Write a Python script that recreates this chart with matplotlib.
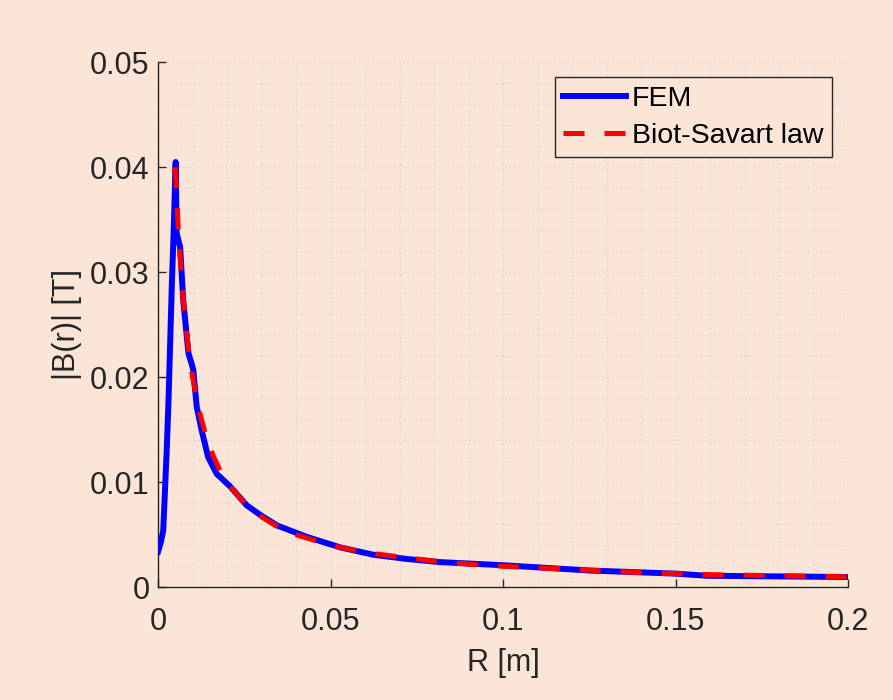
import matplotlib
matplotlib.use("Agg")
import numpy as np
from matplotlib import pyplot as plt
from matplotlib.ticker import MultipleLocator

# FEM solution
r_fem = [0.0, 0.0008, 0.0015, 0.0025, 0.003, 0.004, 0.0045, 0.0051, 0.0054,
         0.0064, 0.0073, 0.0088, 0.0097, 0.0102, 0.0112, 0.0126, 0.0145,
         0.017, 0.0209, 0.0257, 0.0296, 0.0344, 0.0431, 0.0528, 0.0624,
         0.072, 0.0817, 0.1, 0.125, 0.15, 0.159, 0.1755, 0.2]
b_fem = [0.0034, 0.0043, 0.0054, 0.0130, 0.0175, 0.0289, 0.0337, 0.0405, 0.0337,
         0.0324, 0.0273, 0.0223, 0.0213, 0.0207, 0.0172, 0.0150, 0.0124,
         0.0108, 0.0096, 0.0078, 0.0069, 0.0059, 0.0048, 0.0038, 0.0031,
         0.0027, 0.0024, 0.0021, 0.0016, 0.0013, 0.0011, 0.00105, 0.00098]

# Biot-Savart curve (outside the conductor only)
r_bs = [0.005, 0.006, 0.007, 0.008, 0.009, 0.010, 0.012, 0.014, 0.016, 0.018,
        0.020, 0.025, 0.030, 0.035, 0.040, 0.050, 0.060, 0.070, 0.080, 0.090,
        0.100, 0.120, 0.140, 0.160, 0.180, 0.200]
b_bs = [0.0400, 0.0333, 0.0286, 0.0250, 0.0222, 0.0200, 0.0167, 0.0143, 0.0125,
        0.0111, 0.0100, 0.0080, 0.0067, 0.0057, 0.0050, 0.0040, 0.0033, 0.0029,
        0.0025, 0.0022, 0.0020, 0.0017, 0.0014, 0.0012, 0.0011, 0.0010]

xticks = [0, 0.05, 0.1, 0.15, 0.2]
xticklabels = ["0", "0.05", "0.1", "0.15", "0.2"]
yticks = [0, 0.01, 0.02, 0.03, 0.04, 0.05]
yticklabels = ["0", "0.01", "0.02", "0.03", "0.04", "0.05"]

bg = "#fae5d7"
ink = "#262626"
plt.rcParams['font.family'] = ['Liberation Sans', 'DejaVu Sans']

fig = plt.figure(figsize=(8.93, 7.0), dpi=100, facecolor=bg)
ax = fig.add_axes([0.177, 0.161, 0.773, 0.75], facecolor=bg)

ax.plot(r_fem, b_fem, color="#0000ff", lw=4.3, label="FEM", zorder=3,
        solid_joinstyle="round")
ax.plot(r_bs, b_bs, color="#ff0000", lw=3.6, dashes=(4.2, 4.0), label="Biot-Savart law", zorder=4)

ax.set_xlim(0, 0.2)
ax.set_ylim(0, 0.05)
ax.set_xticks(xticks)
ax.set_xticklabels(xticklabels)
ax.set_yticks(yticks)
ax.set_yticklabels(yticklabels)
ax.xaxis.set_minor_locator(MultipleLocator(0.01))
ax.yaxis.set_minor_locator(MultipleLocator(0.002))

ax.grid(which="both", color="#d3dadf", linestyle=(0, (1.5, 2.5)), lw=0.8)
ax.set_axisbelow(True)

for s in ["top", "right"]:
    ax.spines[s].set_visible(False)
for s in ["left", "bottom"]:
    ax.spines[s].set_color(ink)
    ax.spines[s].set_linewidth(1.0)

ax.tick_params(which="major", direction="in", length=6, width=1.0, colors=ink,
               labelsize=22)
ax.tick_params(axis="x", which="major", pad=14)
ax.tick_params(axis="y", which="major", pad=6)
ax.tick_params(which="minor", length=0)

ax.set_xlabel("R [m]", fontsize=22, color=ink, labelpad=8)
ax.set_ylabel("|B(r)| [T]", fontsize=22, color=ink, labelpad=6)

leg = ax.legend(loc="upper right", bbox_to_anchor=(0.976, 0.972), fontsize=20.5,
                frameon=True, fancybox=False, framealpha=1, handlelength=2.2,
                borderpad=0.3, labelspacing=0.4, handletextpad=0.2,
                borderaxespad=0.0)
leg.get_frame().set_facecolor(bg)
leg.get_frame().set_edgecolor(ink)
leg.get_frame().set_linewidth(1.0)
for t in leg.get_texts():
    t.set_color("black")

fig.savefig("out.png", dpi=100, facecolor=bg)
